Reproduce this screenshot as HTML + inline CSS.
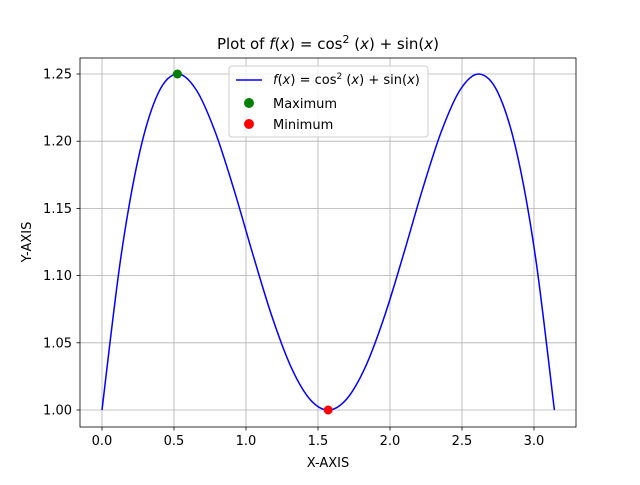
<!DOCTYPE html>
<html><head><meta charset="utf-8"><style>
body{margin:0;background:#fff}
svg text{font-family:"DejaVu Sans","Liberation Sans",sans-serif;font-size:13px;fill:#000}
</style></head><body>
<svg id="chart" width="640" height="480" xmlns="http://www.w3.org/2000/svg">
<rect width="640" height="480" fill="#fff"/>
<g id="grid"></g>
<g id="ticks"></g>
<path id="curve" fill="none" stroke="#0000ff" stroke-width="1.5"/>
<g id="points"></g>
<rect x="80" y="58" width="496" height="369" fill="none" stroke="#000" stroke-width="0.8"/>
<text x="328" y="49" text-anchor="middle" style="font-size:15px">Plot of <tspan font-style="italic">f</tspan>(<tspan font-style="italic">x</tspan>) = cos<tspan dy="-6" style="font-size:11px">2</tspan><tspan dy="6"> (</tspan><tspan font-style="italic">x</tspan>) + sin(<tspan font-style="italic">x</tspan>)</text>
<text x="328" y="467" text-anchor="middle" style="font-size:13px">X-AXIS</text>
<text transform="translate(31,242) rotate(-90)" text-anchor="middle" style="font-size:13px">Y-AXIS</text>
<g>
<rect x="229" y="66" width="199" height="71" rx="3" fill="#fff" fill-opacity="0.8" stroke="#ccc"/>
<line x1="236" y1="80" x2="262" y2="80" stroke="#0000ff" stroke-width="1.5"/>
<text x="273" y="84" style="font-size:13px"><tspan font-style="italic">f</tspan>(<tspan font-style="italic">x</tspan>) = cos<tspan dy="-5" style="font-size:9px">2</tspan><tspan dy="5"> (</tspan><tspan font-style="italic">x</tspan>) + sin(<tspan font-style="italic">x</tspan>)</text>
<circle cx="249" cy="103" r="5" fill="green"/>
<text x="273" y="108" style="font-size:13px">Maximum</text>
<circle cx="249" cy="124" r="5" fill="red"/>
<text x="273" y="129" style="font-size:13px">Minimum</text>
</g>
</svg>
<script>
const xTicks=[0,0.5,1,1.5,2,2.5,3];
const yTicks=[1.00,1.05,1.10,1.15,1.20,1.25];
const xStep=Math.PI/24;
const yValues=[1,1.1135,1.1918,1.2363,1.25,1.2382,1.2071,1.1640,1.1160,1.0703,1.0329,1.0085,1,1.0085,1.0329,1.0703,1.1160,1.1640,1.2071,1.2382,1.25,1.2363,1.1918,1.1135,1];
const maxPoint=[0.5236,1.25];
const minPoint=[1.5708,1.0];
const X=v=>102+v*144;
const Y=v=>410-(v-1)*1344;
const ns="http://www.w3.org/2000/svg";
const grid=document.getElementById('grid'),ticks=document.getElementById('ticks');
function mk(tag,attrs,parent){const e=document.createElementNS(ns,tag);for(const k in attrs)e.setAttribute(k,attrs[k]);parent.appendChild(e);return e;}
xTicks.forEach(t=>{
 const g=mk('line',{x1:X(t),x2:X(t),y1:58,y2:427,stroke:'#b0b0b0','stroke-width':0.8},grid);
 
 
 mk('line',{x1:X(t),x2:X(t),y1:427,y2:430.5,stroke:'#000','stroke-width':0.8},ticks);
 const tx=mk('text',{x:X(t),y:445,'text-anchor':'middle'},ticks);tx.textContent=t.toFixed(1);
 
 
});
yTicks.forEach(t=>{
 const g=mk('line',{x1:80,x2:576,y1:Y(t),y2:Y(t),stroke:'#b0b0b0','stroke-width':0.8},grid);
 
 
 mk('line',{x1:76.5,x2:80,y1:Y(t),y2:Y(t),stroke:'#000','stroke-width':0.8},ticks);
 const tx=mk('text',{x:72,y:Y(t)+4.5,'text-anchor':'end'},ticks);tx.textContent=t.toFixed(2);
 
 
});
const P=yValues.map((v,i)=>[X(i*xStep),Y(v)]);
let d='M'+P[0][0]+','+P[0][1];
for(let i=0;i<P.length-1;i++){
 const p0=P[Math.max(0,i-1)],p1=P[i],p2=P[i+1],p3=P[Math.min(P.length-1,i+2)];
 d+=' C'+(p1[0]+(p2[0]-p0[0])/6)+','+(p1[1]+(p2[1]-p0[1])/6)+' '+(p2[0]-(p3[0]-p1[0])/6)+','+(p2[1]-(p3[1]-p1[1])/6)+' '+p2[0]+','+p2[1];
}
document.getElementById('curve').setAttribute('d',d);
const pts=document.getElementById('points');
const a=mk('circle',{cx:X(maxPoint[0]),cy:Y(maxPoint[1]),r:4.5,fill:'green'},pts);


const b=mk('circle',{cx:X(minPoint[0]),cy:Y(minPoint[1]),r:4.5,fill:'red'},pts);


</script>
</body></html>
